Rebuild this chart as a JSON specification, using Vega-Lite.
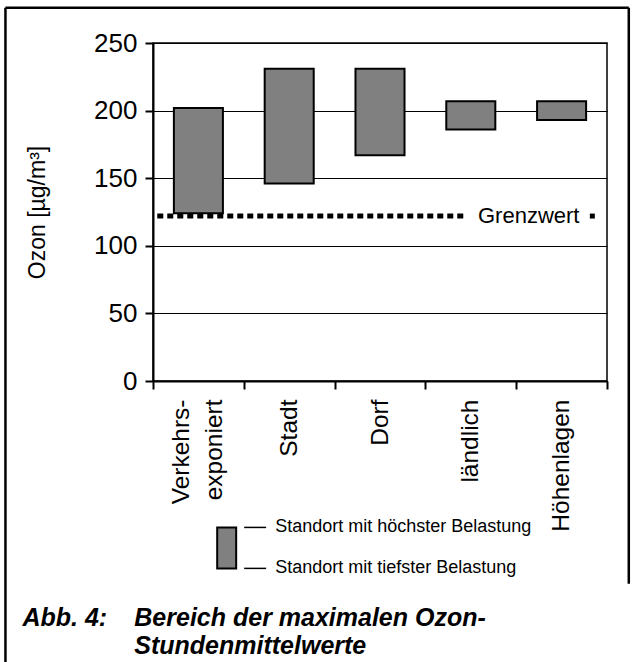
{
  "$schema": "https://vega.github.io/schema/vega-lite/v6.json",
  "width": 454,
  "height": 338,
  "autosize": {"type": "none"},
  "padding": {"left": 153, "top": 43, "right": 28, "bottom": 281},
  "background": "white",
  "config": {
    "view": {"stroke": "black", "strokeWidth": 1.5},
    "font": "Liberation Sans",
    "axisY": {"titleFontSize": 23, "titleFontWeight": "normal", "titleColor": "black", "labelFontSize": 26, "labelColor": "black"}
  },
  "datasets": {
    "bars": [
      {"cat": "Verkehrs-exponiert", "lo": 124, "hi": 202},
      {"cat": "Stadt", "lo": 146, "hi": 231},
      {"cat": "Dorf", "lo": 167, "hi": 231},
      {"cat": "ländlich", "lo": 186, "hi": 207},
      {"cat": "Höhenlagen", "lo": 193, "hi": 207}
    ],
    "grenz": [
      {"x": 0.047, "x2": 3.458, "y": 122},
      {"x": 4.811, "x2": 4.866, "y": 122}
    ],
    "grenzText": [{"x": 3.579, "y": 122, "t": "Grenzwert"}],
    "frame": [
      {"x": -1.625, "x2": 5.24, "y": 276, "y2": 276},
      {"x": -1.625, "x2": -1.625, "y": 276, "y2": -215},
      {"x": 5.24, "x2": 5.24, "y": 276, "y2": -150}
    ],
    "legendBox": [{"x": 0.707, "x2": 0.916, "y": -108.3, "y2": -138.6}],
    "legendLines": [
      {"x": 1.004, "x2": 1.246, "y": -108.3},
      {"x": 1.004, "x2": 1.246, "y": -138.6}
    ],
    "legendText": [
      {"x": 1.345, "y": -108.3, "t": "Standort mit höchster Belastung"},
      {"x": 1.345, "y": -138.6, "t": "Standort mit tiefster Belastung"}
    ],
    "caption": [
      {"x": -1.438, "y": -175.5, "t": "Abb. 4:"},
      {"x": -0.206, "y": -175.5, "t": "Bereich der maximalen Ozon-"},
      {"x": -0.206, "y": -196, "t": "Stundenmittelwerte"}
    ]
  },
  "layer": [
    {
      "data": {"name": "bars"},
      "mark": {"type": "bar", "fill": "#808080", "stroke": "black", "strokeWidth": 2, "width": {"band": 0.54}},
      "encoding": {
        "x": {
          "field": "cat", "type": "nominal", "sort": null,
          "scale": {"paddingInner": 0, "paddingOuter": 0},
          "axis": {
            "title": null, "labelAngle": -90, "labelAlign": "right", "labelBaseline": "middle",
            "labelFontSize": 24.5, "labelColor": "black", "labelPadding": 10, "labelLineHeight": 33,
            "labelExpr": "datum.value == 'Verkehrs-exponiert' ? ['Verkehrs-','exponiert'] : datum.value",
            "labelOffset": {"condition": {"test": "datum.value == 'Verkehrs-exponiert'", "value": -17}, "value": 0},
            "tickBand": "extent", "tickColor": "black", "tickWidth": 2, "tickSize": 8,
            "domainColor": "black", "domainWidth": 2, "grid": false, "labelLimit": 0, "labelOverlap": false
          }
        },
        "y": {
          "field": "lo", "type": "quantitative",
          "scale": {"domain": [0, 250], "nice": false},
          "axis": {
            "title": "Ozon [µg/m³]", "values": [0, 50, 100, 150, 200, 250],
            "grid": true, "gridColor": "black", "gridWidth": 1,
            "domainColor": "black", "domainWidth": 2, "tickColor": "black", "tickWidth": 2, "tickSize": 8,
            "labelFontSize": 26, "labelColor": "black", "labelPadding": 8,
            "titleFontSize": 23, "titleFontWeight": "normal", "titleColor": "black", "titlePadding": 44
          }
        },
        "y2": {"field": "hi"}
      }
    },
    {
      "layer": [
        {
          "data": {"name": "grenz"},
          "mark": {"type": "rule", "color": "black", "strokeWidth": 5, "strokeDash": [6, 4]},
          "encoding": {
            "x": {"field": "x", "type": "quantitative", "scale": {"domain": [0, 5], "nice": false, "zero": false}, "axis": null},
            "x2": {"field": "x2"},
            "y": {"field": "y", "type": "quantitative", "scale": {"domain": [0, 250], "nice": false}}
          }
        },
        {
          "data": {"name": "grenzText"},
          "mark": {"type": "text", "align": "left", "baseline": "middle", "fontSize": 22, "color": "black"},
          "encoding": {
            "x": {"field": "x", "type": "quantitative", "axis": null},
            "y": {"field": "y", "type": "quantitative"},
            "text": {"field": "t"}
          }
        },
        {
          "data": {"name": "frame"},
          "mark": {"type": "rule", "color": "black", "strokeWidth": 2.5},
          "encoding": {
            "x": {"field": "x", "type": "quantitative", "axis": null},
            "x2": {"field": "x2"},
            "y": {"field": "y", "type": "quantitative"},
            "y2": {"field": "y2"}
          }
        },
        {
          "data": {"name": "legendBox"},
          "mark": {"type": "rect", "fill": "#808080", "stroke": "black", "strokeWidth": 2},
          "encoding": {
            "x": {"field": "x", "type": "quantitative", "axis": null},
            "x2": {"field": "x2"},
            "y": {"field": "y", "type": "quantitative"},
            "y2": {"field": "y2"}
          }
        },
        {
          "data": {"name": "legendLines"},
          "mark": {"type": "rule", "color": "black", "strokeWidth": 1.5},
          "encoding": {
            "x": {"field": "x", "type": "quantitative", "axis": null},
            "x2": {"field": "x2"},
            "y": {"field": "y", "type": "quantitative"}
          }
        },
        {
          "data": {"name": "legendText"},
          "mark": {"type": "text", "align": "left", "baseline": "middle", "fontSize": 18, "color": "black"},
          "encoding": {
            "x": {"field": "x", "type": "quantitative", "axis": null},
            "y": {"field": "y", "type": "quantitative"},
            "text": {"field": "t"}
          }
        },
        {
          "data": {"name": "caption"},
          "mark": {"type": "text", "align": "left", "baseline": "middle", "fontSize": 25, "fontWeight": "bold", "fontStyle": "italic", "color": "black"},
          "encoding": {
            "x": {"field": "x", "type": "quantitative", "axis": null},
            "y": {"field": "y", "type": "quantitative"},
            "text": {"field": "t"}
          }
        }
      ]
    }
  ],
  "resolve": {"scale": {"x": "independent"}, "axis": {"x": "independent"}}
}
